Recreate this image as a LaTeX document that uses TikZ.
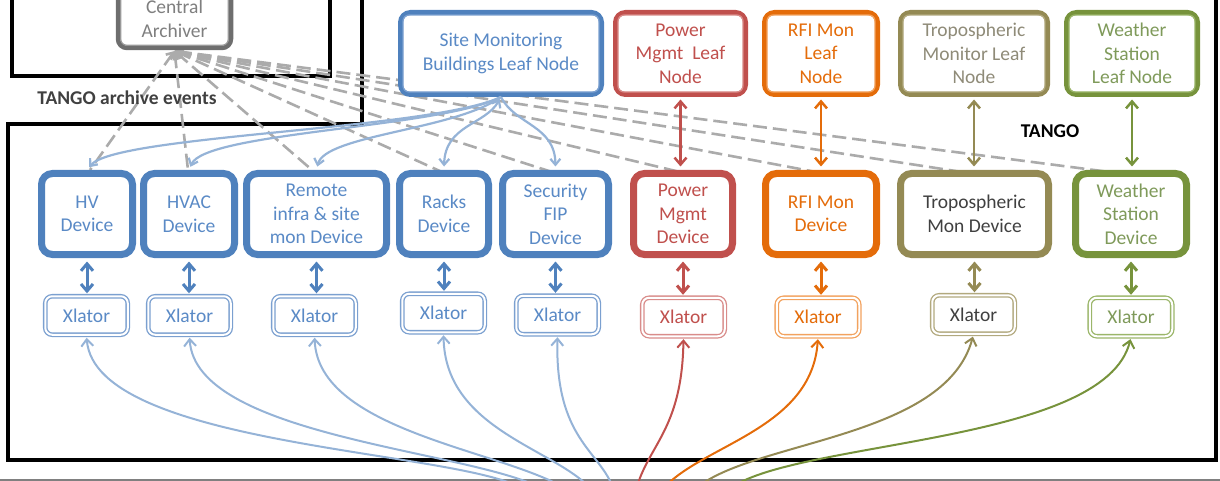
\documentclass[tikz,border=0pt]{standalone}
\usepackage{fontspec}
\setmainfont{Carlito}
\usetikzlibrary{arrows.meta,calc}
\definecolor{cblue}{HTML}{4F81BD}
\definecolor{cbluetxt}{HTML}{5A8AC6}
\definecolor{clblue}{HTML}{95B3D7}
\definecolor{cxblue}{HTML}{7BA0D0}
\definecolor{cred}{HTML}{C0504D}
\definecolor{cxred}{HTML}{D98C8A}
\definecolor{corange}{HTML}{E46C0A}
\definecolor{cxorange}{HTML}{F2A25E}
\definecolor{colive}{HTML}{948A54}
\definecolor{cxolive}{HTML}{B2A97E}
\definecolor{colivetxt}{HTML}{8F8B78}
\definecolor{cgreen}{HTML}{77933C}
\definecolor{cxgreen}{HTML}{9BB66A}
\definecolor{cgreentxt}{HTML}{7F9A5A}
\definecolor{cgray}{HTML}{ABABAB}
\definecolor{cdgray}{HTML}{6E6E6E}
\definecolor{cgtxt}{HTML}{7F7F7F}
\definecolor{cdtxt}{HTML}{404040}
\newcommand\innerln[2]{\draw[#2,line width=1.2pt,rounded corners=6pt] ([xshift=5pt,yshift=5pt]#1.south west) rectangle ([xshift=-5pt,yshift=-5pt]#1.north east);}
\begin{document}
\begin{tikzpicture}[x=1pt,y=-1pt,
  txt/.style={font=\fontsize{19.5}{23.5}\selectfont, align=center, inner sep=0pt},
  leafbox/.style={txt, draw=#1, line width=5pt, rounded corners=10pt, fill=white, minimum height=82pt},
  devbox/.style={txt, draw=#1, line width=7pt, rounded corners=11pt, fill=white, minimum height=81pt},
  xbox/.style={txt, draw=#1, double=white, double distance=2pt, line width=1.3pt, rounded corners=7pt, fill=white, minimum width=82.5pt, minimum height=38.5pt},
  archbox/.style={txt, draw=cdgray, line width=4.5pt, rounded corners=9pt, fill=white, text=cgtxt},
  archln/.style={draw=cgray, line width=2.6pt, dash pattern=on 14pt off 6pt, {Straight Barb[length=6pt,width=10pt]}-},
  smln/.style={draw=clblue, line width=2.2pt, -{Straight Barb[length=6pt,width=10pt]}, shorten >=3.5pt},
  dxln/.style={draw=#1, line width=3pt, {Straight Barb[length=7pt,width=12pt]}-{Straight Barb[length=7pt,width=12pt]}, shorten <=3.5pt, shorten >=2.3pt},
  lfln/.style={draw=#1, line width=2.5pt, {Straight Barb[length=7pt,width=12pt]}-{Straight Barb[length=7pt,width=12pt]}, shorten <=2.5pt, shorten >=3.5pt},
  btln/.style={draw=#1, line width=2pt, -{Straight Barb[length=7pt,width=12pt]}, shorten >=2.3pt},
  lbl/.style={font=\bfseries\fontsize{19.5}{23.5}\selectfont, inner sep=0pt}
]
\useasboundingbox (0,0) rectangle (1220,481);
% frames
\draw[line width=4pt] (12,-10) rectangle (330,76);
\draw[line width=3.5pt] (362,-10) -- (362,124) -- (8,124) -- (8,460) -- (1216,460) -- (1216,-10);
\draw[draw=gray, line width=2pt] (0,480) -- (1220,480);

\coordinate (archpt) at (174.5,51);

% dashed archive lines (behind nodes)
\foreach \p in {(90,170),(188,170),(312,170),(442,172),(552,172),(680,172),(816,172),(962,172),(1125,174)}
  \draw[archln] (archpt) -- \p;

% nodes
\node[archbox, minimum width=113pt, minimum height=58pt] (Arch) at (174.5,19) {Central\\Archiver};
\innerln{Arch}{gray!80}

\node[leafbox=cblue, text=cbluetxt, minimum width=201pt] (SM) at (501,53.5) {Site Monitoring\\Buildings Leaf Node};
\innerln{SM}{cxblue}
\node[leafbox=cred, text=cred, minimum width=130pt] (PML) at (680.5,53.5) {Power\\Mgmt\ \ Leaf\\Node};
\innerln{PML}{cxred}
\node[leafbox=corange, text=corange, minimum width=113pt] (RFIL) at (821,53.5) {RFI Mon\\Leaf\\Node};
\innerln{RFIL}{cxorange}
\node[leafbox=colive, text=colivetxt, minimum width=147pt] (TRL) at (974,53.5) {Tropospheric\\Monitor Leaf\\Node};
\innerln{TRL}{cxolive}
\node[leafbox=cgreen, text=cgreentxt, minimum width=131pt] (WSL) at (1132,53.5) {Weather\\Station\\Leaf Node};
\innerln{WSL}{cxgreen}

\node[devbox=cblue, text=cbluetxt, minimum width=91pt] (HVd) at (87,214) {HV\\Device};
\node[devbox=cblue, text=cbluetxt, minimum width=91pt] (HVACd) at (189,214) {HVAC\\Device};
\node[devbox=cblue, text=cbluetxt, minimum width=140pt] (Remd) at (316.5,214) {Remote\\infra \& site\\mon Device};
\node[devbox=cblue, text=cbluetxt, minimum width=89pt] (Racksd) at (444,214) {Racks\\Device};
\node[devbox=cblue, text=cbluetxt, minimum width=106pt] (Secd) at (555.5,214) {Security\\FIP\\Device};
\node[devbox=cred, text=cred, minimum width=99pt] (PMd) at (683,214) {Power\\Mgmt\\Device};
\node[devbox=corange, text=corange, minimum width=111pt] (RFId) at (821,214) {RFI Mon\\Device};
\node[devbox=colive, text=cdtxt, minimum width=148pt] (TRd) at (974.5,214) {Tropospheric\\Mon Device};
\node[devbox=cgreen, text=cgreentxt, minimum width=111pt] (WSd) at (1131,214) {Weather\\Station\\Device};

\node[xbox=cxblue, text=cbluetxt] (HVx) at (86.5,315.5) {Xlator};
\node[xbox=cxblue, text=cbluetxt] (HVACx) at (189.5,315.5) {Xlator};
\node[xbox=cxblue, text=cbluetxt] (Remx) at (314.5,315.5) {Xlator};
\node[xbox=cxblue, text=cbluetxt] (Racksx) at (443.5,313) {Xlator};
\node[xbox=cxblue, text=cbluetxt] (Secx) at (557.5,315) {Xlator};
\node[xbox=cxred, text=cred] (PMx) at (683.5,317) {Xlator};
\node[xbox=cxorange, text=corange] (RFIx) at (818,317) {Xlator};
\node[xbox=cxolive, text=cdtxt] (TRx) at (973.5,314.5) {Xlator};
\node[xbox=cxgreen, text=cgreentxt] (WSx) at (1131,317) {Xlator};

% labels
\node[lbl, text=cdtxt] (archlbl) at (127,98) {TANGO archive events};
\node[lbl, text=black] (tangolbl) at (1050,131) {TANGO};

% site monitoring leaf to devices
\draw[smln] (SM.south) .. controls (430,130) and (115,135) .. (HVd.north);
\draw[smln] (SM.south) .. controls (440,128) and (205,132) .. (HVACd.north);
\draw[smln] (SM.south) .. controls (455,130) and (325,135) .. (Remd.north);
\draw[smln, {Straight Barb[length=6pt,width=10pt]}-{Straight Barb[length=6pt,width=10pt]}, shorten <=2.5pt] (SM.south) .. controls (485,125) and (445,125) .. (Racksd.north);
\draw[smln] (SM.south) .. controls (515,125) and (555,125) .. (Secd.north);

% leaf to device
\draw[lfln=cred] (PML.south) -- (PML.south |- PMd.north);
\draw[lfln=corange] (RFIL.south) -- (RFIL.south |- RFId.north);
\draw[lfln=colive] (TRL.south) -- (TRL.south |- TRd.north);
\draw[lfln=cgreen] (WSL.south) -- (WSL.south |- WSd.north);

% device to xlator
\draw[dxln=cblue] (HVd.south) -- (HVd.south |- HVx.north);
\draw[dxln=cblue] (HVACd.south) -- (HVACd.south |- HVACx.north);
\draw[dxln=cblue] (Remd.south) -- (Remd.south |- Remx.north);
\draw[dxln=cblue] (Racksd.south) -- (Racksd.south |- Racksx.north);
\draw[dxln=cblue] (Secd.south) -- (Secd.south |- Secx.north);
\draw[dxln=cred] (PMd.south) -- (PMd.south |- PMx.north);
\draw[dxln=corange] (RFId.south) -- (RFId.south |- RFIx.north);
\draw[dxln=colive] (TRd.south) -- (TRd.south |- TRx.north);
\draw[dxln=cgreen] (WSd.south) -- (WSd.south |- WSx.north);

% bottom feed coordinates
\coordinate (b1) at (525,490);
\coordinate (b2) at (545,490);
\coordinate (b3) at (568,490);
\coordinate (b4) at (592,490);
\coordinate (b5) at (614,490);
\coordinate (b6) at (636,490);
\coordinate (b7) at (662,490);
\coordinate (b8) at (694,490);
\coordinate (b9) at (728,490);

\draw[btln=clblue] (b1) .. controls (465,450) and (95,448) .. (HVx.south);
\draw[btln=clblue] (b2) .. controls (475,450) and (195,438) .. (HVACx.south);
\draw[btln=clblue] (b3) .. controls (505,450) and (318,432) .. (Remx.south);
\draw[btln=clblue] (b4) .. controls (555,448) and (445,430) .. (Racksx.south);
\draw[btln=clblue] (b5) .. controls (600,450) and (555,440) .. (Secx.south);
\draw[btln=cred] (b6) .. controls (648,445) and (682,430) .. (PMx.south);
\draw[btln=corange] (b7) .. controls (700,445) and (812,430) .. (RFIx.south);
\draw[btln=colive] (b8) .. controls (750,440) and (945,440) .. (TRx.south);
\draw[btln=cgreen] (b9) .. controls (790,440) and (1105,445) .. (WSx.south);
\end{tikzpicture}
\end{document}
